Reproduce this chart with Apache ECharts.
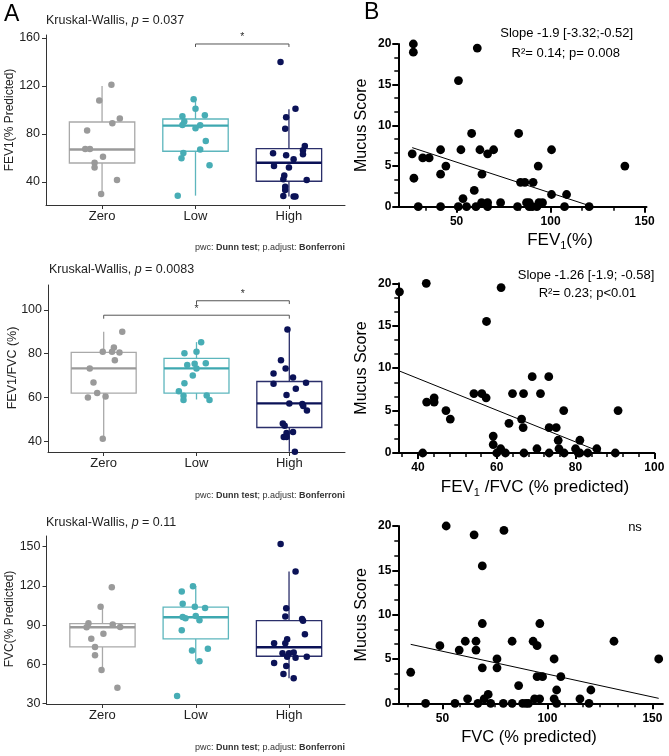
<!DOCTYPE html>
<html><head><meta charset="utf-8">
<script src="https://cdn.jsdelivr.net/npm/echarts@6/dist/echarts.min.js"></script>
<style>html,body{margin:0;padding:0;background:#fff}#c{width:669px;height:756px}</style>
</head><body><div id="c"></div>
<script>
const FF = "'Liberation Sans', Arial, Helvetica, sans-serif";
const groups = ['Zero', 'Low', 'High'];

// ---- Panel A1: FEV1 (% predicted) ----
const fev1Zero = [121,108,93,89,83,67.5,67.5,61,56,52,41.7,30];
const fev1ZeroJit = [0.10,-0.03,0.19,0.11,-0.16,-0.18,-0.13,0.01,-0.08,-0.08,0.16,-0.01];
const fev1Low = [108.9,101,94.7,95.6,90.3,87.5,87.2,84.7,74.2,67,64.2,59.7,54,28.6];
const fev1LowJit = [-0.02,0,-0.14,0.10,-0.12,-0.14,0.05,0,0.11,0.05,-0.13,-0.15,0.15,-0.19];
const fev1High = [140,101,93.9,84.4,70,66.4,63,63.9,62.2,58.9,53.3,52,45.3,42.3,41.7,36.1,33.3,28.3,27.8,27.8];
const fev1HighJit = [-0.09,0.07,-0.03,-0.04,0.17,0.15,0.15,-0.17,-0.03,0.05,-0.16,0,-0.05,-0.06,0.19,-0.04,-0.04,-0.06,0.05,0.07];
const fev1Box = [[30,55.8,67,90,120],[28.6,65.6,87,92.5,109],[27.8,40.6,56,67.8,100.6]];
const fev1Ticks = [40,80,120,160];
const fev1Brackets = [[2,3,155,152.5]];

// ---- Panel A2: FEV1/FVC (%) ----
const ratioZero = [90,82.9,80.9,80.9,80.6,77,73.2,66.8,62,60,60.5,41.2];
const ratioZeroJit = [0.20,0.11,-0.01,0.09,0.17,0.12,-0.15,-0.11,-0.07,-0.17,0.02,-0.01];
const ratioLow = [85.3,80.9,80.2,75.4,74.8,75.6,73.2,70,66.5,62.9,60.8,60.9,58.9,58.9];
const ratioLowJit = [0.05,0,-0.13,-0.02,-0.10,0.10,0,-0.04,-0.13,-0.19,-0.14,0.11,-0.14,0.14];
const ratioHigh = [91.1,77,73.3,71,69.1,66.3,66.7,64,61.1,57.3,57,56.1,54.1,48.1,47.1,44.2,43.8,41.9,41.9,35.2];
const ratioHighJit = [-0.02,-0.09,-0.04,-0.17,0.04,-0.17,0.18,0.07,-0.03,0,0.14,0.15,0.19,-0.07,-0.05,0.04,-0.03,-0.06,-0.03,0.06];
const ratioBox = [[41.2,62,73.3,80.6,90],[59.1,62,73.3,77.9,85.3],[35.2,46.3,57.3,67.3,91.1]];
const ratioTicks = [40,60,80,100];
const ratioBrackets = [[2,3,104.2,102.7],[1,3,97.6,96]];

// ---- Panel A3: FVC (% predicted) ----
const fvcZero = [119,104.2,91.5,88.5,90.5,88.7,83.4,79.6,73.4,67.1,55.8,42.3];
const fvcZeroJit = [0.10,-0.02,-0.15,-0.17,0.11,0.19,0.01,-0.12,-0.08,-0.08,-0.01,0.16];
const fvcLow = [119.8,115.7,106.5,104.2,103.2,96.3,95.3,97.1,93.8,86.2,70.6,62.5,35.9,72.1];
const fvcLowJit = [-0.03,-0.15,-0.14,-0.01,0.10,-0.14,-0.11,0,0.04,-0.15,-0.04,0.04,-0.20,0.13];
const fvcHigh = [152,131,103,96.6,94.8,93.5,83.1,79.3,76.2,76.2,68.6,68.6,69.1,66,65.2,66,61.2,58.9,52.8,49.5];
const fvcHighJit = [-0.09,0.07,-0.03,-0.04,0.14,0.15,0.17,-0.02,-0.04,-0.16,-0.07,0,0.05,-0.02,0.07,0.19,-0.16,-0.03,-0.06,0.05];
const fvcBox = [[56.4,73.4,88.5,91.2,104.2],[62.5,79.5,96.1,103.8,120],[49.5,66.3,73.2,93.5,131]];
const fvcTicks = [30,60,90,120,150];
const fvcBrackets = [];

// ---- Panel B1: Mucus score vs FEV1 ----
const b1X = [27,27,61,51,58,83,26.4,27.3,32,35.4,41.5,41.5,44.3,52.3,62.4,66.5,69.7,63.5,59.4,53.4,29.6,41.5,50.9,55.3,60.3,63.3,66.5,66.5,73.4,82.4,87.2,88.6,88.6,90.2,92.7,93.8,95.7,84,86.3,90.7,93.4,100.5,100.5,108.5,107.4,120.5,139.5];
const b1Y = [20,19,19.5,15.5,9,9,6.5,3.5,6,6,7,4,5,7,7,6.5,7,4,2,1,0,0,0,0,0,0.5,0.5,0,0.5,0,0.5,0.5,0,0,0,0.5,0.5,3,3,3,5,7,1.5,1.5,0,0,5];
const b1Fit = [[26.4,7.26],[121,0.1]];
const b1XTicks = [50,100,150];

// ---- Panel B2: Mucus score vs FEV1/FVC ----
const b2X = [35.3,42.1,61.1,57.4,69,73.2,42.2,44.1,44.1,47.1,48.2,41.2,54.2,56.2,57.3,64,66.8,71.1,59.1,59.1,60,61,62.2,63.1,66.3,66.7,66.9,70.2,73.3,73.3,75.1,75.6,75.8,77,77.1,80,80.7,81.1,81.1,83.1,85.4,90.1,90.8];
const b2Y = [19,20,19.5,15.5,9,9,6,6.5,6,5,4,0,7,7,6.5,7,7,7,2,1,0,0.5,0,3.5,4,3,0,0.5,0,3,3,1.5,0.5,5,0,0.5,0,1.5,0,0,0.5,0,5];
const b2Fit = [[35.3,9.66],[87,0]];
const b2XTicks = [40,60,80,100];

// ---- Panel B3: Mucus score vs FVC ----
const b3X = [51.8,65.1,79.3,69,69,96.4,34.9,42,48.8,56,58,60.9,62,66,66,66.9,69,69.9,71.8,73,76,76,79,83.2,83.2,86.3,88.2,89.8,91,93.2,95.1,93.9,96.3,95.1,97.7,103.2,103.2,104.4,104.4,106.4,115.5,119.8,120.7,131.7,153];
const b3Y = [20,19,19.5,15.5,9,9,3.5,0,6.5,0,6,7,0.5,7,6,0,4,0.5,1,0,5,4,0,7,0,2,0,0,0,7,6.5,0.5,0.5,3,3,5,0.5,1.5,0,3,0.5,0,1.5,7,5];
const b3Fit = [[34.9,6.65],[153,0.56]];
const b3XTicks = [50,100,150];

const mucusTicks = [0,5,10,15,20];

// ---------------- styling ----------------
const ptColor = ['#9a9a9a', '#47adb5', '#0b1257'];
const boxColor = ['#a9a9a9', '#5db6bd', '#2a2e6a'];
const medColor = ['#9a9a9a', '#3ea8b0', '#0b1257'];

const grids = [
  {left: 46, top: 35, width: 299, height: 170},
  {left: 48, top: 285, width: 297, height: 167},
  {left: 46.5, top: 536, width: 298.5, height: 168},
  {left: 398.3, top: 44, width: 248.2, height: 162.7},
  {left: 398.3, top: 283.3, width: 256, height: 169.7},
  {left: 398.3, top: 526, width: 264.6, height: 177.3}
];
grids.forEach(g => g.outerBoundsMode = 'none');

const leftPanels = [
  {vals: [fev1Zero, fev1Low, fev1High], jit: [fev1ZeroJit, fev1LowJit, fev1HighJit], box: fev1Box, ticks: fev1Ticks, min: 20.8, max: 162.5, br: fev1Brackets},
  {vals: [ratioZero, ratioLow, ratioHigh], jit: [ratioZeroJit, ratioLowJit, ratioHighJit], box: ratioBox, ticks: ratioTicks, min: 35.1, max: 111.4, br: ratioBrackets},
  {vals: [fvcZero, fvcLow, fvcHigh], jit: [fvcZeroJit, fvcLowJit, fvcHighJit], box: fvcBox, ticks: fvcTicks, min: 29.8, max: 158.2, br: fvcBrackets}
];
const rightPanels = [
  {x: b1X, y: b1Y, fit: b1Fit, xt: b1XTicks, xmin: 19, xmax: 151, xminor: 50 / 3},
  {x: b2X, y: b2Y, fit: b2Fit, xt: b2XTicks, xmin: 35, xmax: 100, xminor: 4},
  {x: b3X, y: b3Y, fit: b3Fit, xt: b3XTicks, xmin: 29, xmax: 155, xminor: 50 / 6}
];

function stepVals(min, max, step) {
  const out = [];
  for (let k = Math.ceil(min / step - 1e-6); k * step <= max + 1e-6; k++) out.push(+(k * step).toFixed(4));
  return out;
}

const xAxis = [], yAxis = [], series = [];

leftPanels.forEach((p, i) => {
  xAxis.push({
    gridIndex: i, type: 'value', min: 0.4, max: 3.6,
    axisLine: {show: true, onZero: false, lineStyle: {color: '#333', width: 1}},
    axisTick: {show: true, customValues: [1, 2, 3], length: 4, lineStyle: {color: '#333', width: 1}},
    axisLabel: {customValues: [1, 2, 3], formatter: v => groups[Math.round(v) - 1], fontSize: 13, color: '#222', margin: 5, fontFamily: FF},
    splitLine: {show: false}
  });
  yAxis.push({
    gridIndex: i, type: 'value', min: p.min, max: p.max,
    axisLine: {show: true, onZero: false, lineStyle: {color: '#333', width: 1}},
    axisTick: {show: true, customValues: p.ticks, length: 4, lineStyle: {color: '#333', width: 1}},
    axisLabel: {customValues: p.ticks, fontSize: 12.5, color: '#222', margin: 6, fontFamily: FF},
    splitLine: {show: false}
  });
});

rightPanels.forEach((p, k) => {
  const g = 3 + k;
  const mainAxisStyle = {show: true, onZero: false, lineStyle: {color: '#000', width: 2}};
  xAxis.push({
    gridIndex: g, type: 'value', position: 'bottom', min: p.xmin, max: p.xmax,
    axisLine: mainAxisStyle,
    axisTick: {show: true, customValues: p.xt, length: 6, lineStyle: {color: '#000', width: 2}},
    axisLabel: {customValues: p.xt, fontSize: 12, fontWeight: 'bold', color: '#000', margin: 9, fontFamily: FF},
    splitLine: {show: false}
  });
  xAxis.push({
    gridIndex: g, type: 'value', position: 'bottom', offset: 0, min: p.xmin, max: p.xmax,
    axisLine: {show: false, onZero: false},
    axisTick: {show: true, customValues: stepVals(p.xmin, p.xmax, p.xminor), length: 4, lineStyle: {color: '#000', width: 1.5}},
    axisLabel: {show: false}, splitLine: {show: false}
  });
  yAxis.push({
    gridIndex: g, type: 'value', position: 'left', min: 0, max: 20,
    axisLine: mainAxisStyle,
    axisTick: {show: true, customValues: mucusTicks, length: 6, lineStyle: {color: '#000', width: 2}},
    axisLabel: {customValues: mucusTicks, fontSize: 12, fontWeight: 'bold', color: '#000', margin: 7, fontFamily: FF},
    splitLine: {show: false}
  });
  yAxis.push({
    gridIndex: g, type: 'value', position: 'left', offset: 0, min: 0, max: 20,
    axisLine: {show: false, onZero: false},
    axisTick: {show: true, customValues: stepVals(0, 20, 5 / 3), length: 4, lineStyle: {color: '#000', width: 1.5}},
    axisLabel: {show: false}, splitLine: {show: false}
  });
});

// left panel series
leftPanels.forEach((p, i) => {
  series.push({
    type: 'custom', xAxisIndex: i, yAxisIndex: i, clip: true, z: 2, silent: true,
    data: p.box.map((s, gi) => [gi + 1].concat(s)),
    encode: {x: 0, y: [1, 2, 3, 4, 5]},
    renderItem: (params, api) => {
      const gi = params.dataIndex;
      const x = api.value(0);
      const lo = api.value(1), q1 = api.value(2), med = api.value(3), q3 = api.value(4), hi = api.value(5);
      const hw = 0.35;
      const a = api.coord([x - hw, q3]), b = api.coord([x + hw, q1]);
      const m1 = api.coord([x - hw, med]), m2 = api.coord([x + hw, med]);
      const top = api.coord([x, hi]), bot = api.coord([x, lo]);
      const c = boxColor[gi];
      return {type: 'group', children: [
        {type: 'line', shape: {x1: top[0], y1: top[1], x2: top[0], y2: a[1]}, style: {stroke: c, lineWidth: 1.3}},
        {type: 'line', shape: {x1: bot[0], y1: b[1], x2: bot[0], y2: bot[1]}, style: {stroke: c, lineWidth: 1.3}},
        {type: 'rect', shape: {x: a[0], y: a[1], width: b[0] - a[0], height: b[1] - a[1]}, style: {fill: '#fff', stroke: c, lineWidth: 1.3}},
        {type: 'line', shape: {x1: m1[0], y1: m1[1], x2: m2[0], y2: m2[1]}, style: {stroke: medColor[gi], lineWidth: 2.4}}
      ]};
    }
  });
  p.vals.forEach((vals, gi) => {
    series.push({
      type: 'scatter', xAxisIndex: i, yAxisIndex: i, z: 3, clip: false, silent: true,
      symbolSize: 6.5, itemStyle: {color: ptColor[gi], opacity: 1},
      data: vals.map((v, j) => [gi + 1 + p.jit[gi][j], v])
    });
  });
  if (p.br.length) {
    p.br.forEach(br => {
      const [g1, g2, yTop, yTip] = br;
      series.push({
        type: 'line', xAxisIndex: i, yAxisIndex: i, z: 3, silent: true, showSymbol: false,
        lineStyle: {color: '#555', width: 1},
        data: [[g1, yTip], [g1, yTop], [g2, yTop], [g2, yTip]]
      });
    });
    series.push({
      type: 'custom', xAxisIndex: i, yAxisIndex: i, z: 4, silent: true, clip: false,
      data: p.br.map(br => [(br[0] + br[1]) / 2, br[2]]),
      encode: {x: 0, y: 1},
      renderItem: (params, api) => {
        const c = api.coord([api.value(0), api.value(1)]);
        return {type: 'text', x: c[0], y: c[1] - 1, style: {text: '*', fontSize: 10.5, fontFamily: FF, fill: '#333', align: 'center', verticalAlign: 'bottom'}};
      }
    });
  }
});

// right panel series
rightPanels.forEach((p, k) => {
  const xi = 3 + 2 * k, yi = 3 + 2 * k;
  series.push({
    type: 'scatter', xAxisIndex: xi, yAxisIndex: yi, z: 3, clip: false, silent: true,
    symbolSize: 8.8, itemStyle: {color: '#000', opacity: 1},
    data: p.x.map((v, j) => [v, p.y[j]])
  });
  series.push({
    type: 'line', xAxisIndex: xi, yAxisIndex: yi, z: 4, silent: true, showSymbol: false,
    lineStyle: {color: '#000', width: 1},
    data: p.fit
  });
});

function txt(x, y, text, style, rot) {
  return {type: 'text', x: x, y: y, rotation: rot || 0, silent: true, z: 10,
    style: Object.assign({text: text, fill: '#000', fontFamily: FF, fontSize: 12, align: 'left', verticalAlign: 'middle'}, style)};
}
const richP = {i: {fontStyle: 'italic', fontFamily: FF, fontSize: 12.5, fill: '#222'}};
const richB = {b: {fontWeight: 'bold', fontFamily: FF, fontSize: 9, fill: '#333'}};
const sub17 = {s: {fontFamily: FF, fontSize: 11, padding: [11, 0, 0, 0], fill: '#000'}};

const graphic = [
  txt(4, 15, 'A', {fontSize: 23}),
  txt(364, 13, 'B', {fontSize: 23}),
  txt(46, 21, 'Kruskal-Wallis, {i|p} = 0.037', {fill: '#222', fontSize: 12.5, rich: richP}),
  txt(49, 270, 'Kruskal-Wallis, {i|p} = 0.0083', {fill: '#222', fontSize: 12.5, rich: richP}),
  txt(46, 522.7, 'Kruskal-Wallis, {i|p} = 0.11', {fill: '#222', fontSize: 12.5, rich: richP}),
  txt(345, 248, 'pwc: {b|Dunn test}; p.adjust: {b|Bonferroni}', {fontSize: 9, fill: '#333', align: 'right', rich: richB}),
  txt(345, 496, 'pwc: {b|Dunn test}; p.adjust: {b|Bonferroni}', {fontSize: 9, fill: '#333', align: 'right', rich: richB}),
  txt(345, 748, 'pwc: {b|Dunn test}; p.adjust: {b|Bonferroni}', {fontSize: 9, fill: '#333', align: 'right', rich: richB}),
  txt(10, 120, 'FEV1(% Predicted)', {fill: '#222', align: 'center'}, Math.PI / 2),
  txt(13, 368, 'FEV1/FVC (%)', {fill: '#222', align: 'center', fontSize: 12.5}, Math.PI / 2),
  txt(10, 619, 'FVC(% Predicted)', {fill: '#222', align: 'center'}, Math.PI / 2),
  txt(362, 125.3, 'Mucus Score', {fontSize: 16, align: 'center'}, Math.PI / 2),
  txt(362, 368, 'Mucus Score', {fontSize: 16, align: 'center'}, Math.PI / 2),
  txt(362, 614.7, 'Mucus Score', {fontSize: 16, align: 'center'}, Math.PI / 2),
  txt(560, 240, 'FEV{s|1}(%)', {fontSize: 17, align: 'center', rich: sub17}),
  txt(535, 487, 'FEV{s|1} /FVC (% predicted)', {fontSize: 17, align: 'center', rich: sub17}),
  txt(529, 737, 'FVC (% predicted)', {fontSize: 16.5, align: 'center'}),
  txt(566.7, 33, 'Slope -1.9 [-3.32;-0.52]', {fontSize: 13, align: 'center'}),
  txt(565.8, 53, 'R\u00b2= 0.14; p= 0.008', {fontSize: 13, align: 'center'}),
  txt(586, 275, 'Slope -1.26 [-1.9; -0.58]', {fontSize: 13, align: 'center'}),
  txt(587.5, 293.3, 'R\u00b2= 0.23; p<0.01', {fontSize: 13, align: 'center'}),
  txt(635, 527, 'ns', {fontSize: 13, align: 'center'})
];

const chart = echarts.init(document.getElementById('c'), null, {renderer: 'canvas'});
chart.setOption({
  animation: false,
  backgroundColor: '#fff',
  grid: grids,
  xAxis: xAxis,
  yAxis: yAxis,
  series: series,
  graphic: graphic
});
</script>
</body></html>
